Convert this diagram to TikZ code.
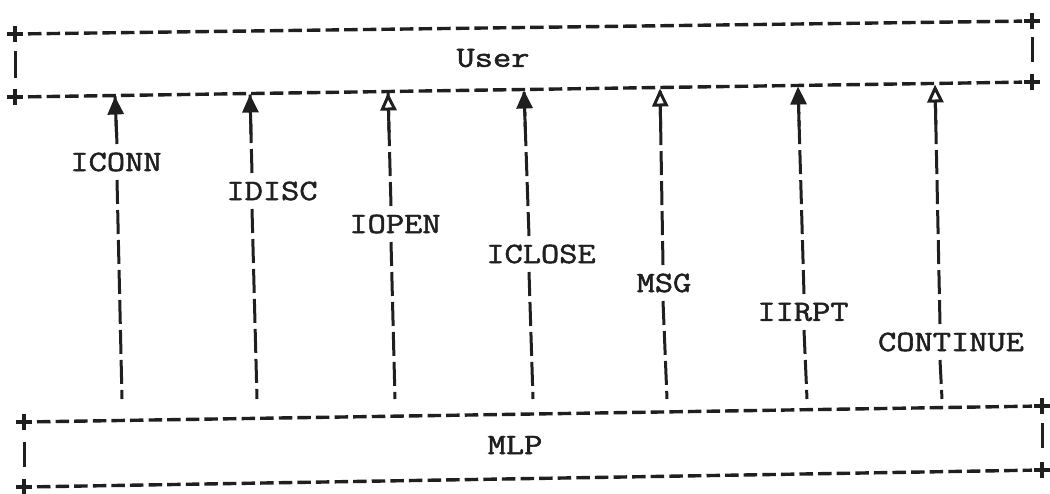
\documentclass[tikz,border=0pt]{standalone}
\usepackage{graphicx}
\usepackage{fontspec}
\newfontfamily\twfont{Latin Modern Mono}[FakeBold=1.6]
\usetikzlibrary{arrows.meta,calc}
\tikzset{
  ink/.style={line width=3.4pt, black!88},
  lbl/.style={inner sep=0pt, text=black!88, font=\fontsize{29.5}{30}\selectfont\twfont},
  hdash/.style={ink, dash pattern=on 13.5pt off 5.1pt},
  vdash/.style={ink, line width=3pt, dash pattern=on 24pt off 6pt},
  vbar/.style={ink, line width=3pt},
  tipfull/.style={ink, line width=3pt, -{Triangle[width=16pt,length=18pt]}},
  tipopen/.style={ink, line width=3pt, -{Triangle[width=16pt,length=18pt,fill=white]}},
  plusmark/.pic={\draw[ink] (-8,0)--(8,0) (0,-8)--(0,8);}
}
\newcommand\twtext[1]{\scalebox{1.2}[1]{#1}}
\begin{document}
\begin{tikzpicture}[x=1pt,y=-1pt]
\useasboundingbox (0,0) rectangle (1050,493);
% User box
\coordinate (utl) at (15,34);
\coordinate (utr) at (1032,21);
\coordinate (ubl) at (15,97);
\coordinate (ubr) at (1032,82);
% MLP box
\coordinate (mtl) at (24,422);
\coordinate (mtr) at (1042,406);
\coordinate (mbl) at (24,487);
\coordinate (mbr) at (1042,470);
\foreach \c in {utl,utr,ubl,ubr,mtl,mtr,mbl,mbr} {\pic at (\c) {plusmark};}
\draw[hdash] ($(utl)!13pt!(utr)$) -- ($(utr)!10pt!(utl)$);
\draw[hdash] ($(ubl)!13pt!(ubr)$) -- ($(ubr)!10pt!(ubl)$);
\draw[hdash] ($(mtl)!13pt!(mtr)$) -- ($(mtr)!10pt!(mtl)$);
\draw[hdash] ($(mbl)!13pt!(mbr)$) -- ($(mbr)!10pt!(mbl)$);
\draw[vbar] ($(utl)!0.27!(ubl)$) -- ($(utl)!0.70!(ubl)$);
\draw[vbar] ($(utr)!0.27!(ubr)$) -- ($(utr)!0.68!(ubr)$);
\draw[vbar] ($(mtl)!0.30!(mbl)$) -- ($(mtl)!0.69!(mbl)$);
\draw[vbar] ($(mtr)!0.27!(mbr)$) -- ($(mtr)!0.66!(mbr)$);
\node[lbl] (user) at (493,58) {\twtext{User}};
\node[lbl] (mlp) at (515,445) {\twtext{MLP}};
% columns
\foreach \i/\xt/\yt/\xl/\xc/\yc/\xb/\txt/\ts in {
  1/115/96.5/117/116/162/122/ICONN/tipfull,
  2/250/94.5/252/272/191/257/IDISC/tipfull,
  3/388/92.5/391/395/224/395/IOPEN/tipopen,
  4/524/90.5/529/541/254/533/ICLOSE/tipfull,
  5/660/88.5/663/664/283/667/MSG/tipopen,
  6/798/86.5/804/803/312/807/IIRPT/tipfull,
  7/935/84.5/940/951/342/942/CONTINUE/tipopen} {
  \node[lbl] (L\i) at (\xc,\yc) {\twtext{\txt}};
  \coordinate (U\i) at (\xt,\yt);
  \coordinate (A\i) at (\xl,\yc-18);
  \coordinate (B\i) at (\xl,\yc+18);
  \coordinate (D\i) at (\xb,399);
  \draw[vdash] (A\i) -- (U\i);
  \draw[\ts] ($(U\i)!40pt!(A\i)$) -- (U\i);
  \draw[vdash] (B\i) -- (D\i);
}
\end{tikzpicture}
\end{document}
